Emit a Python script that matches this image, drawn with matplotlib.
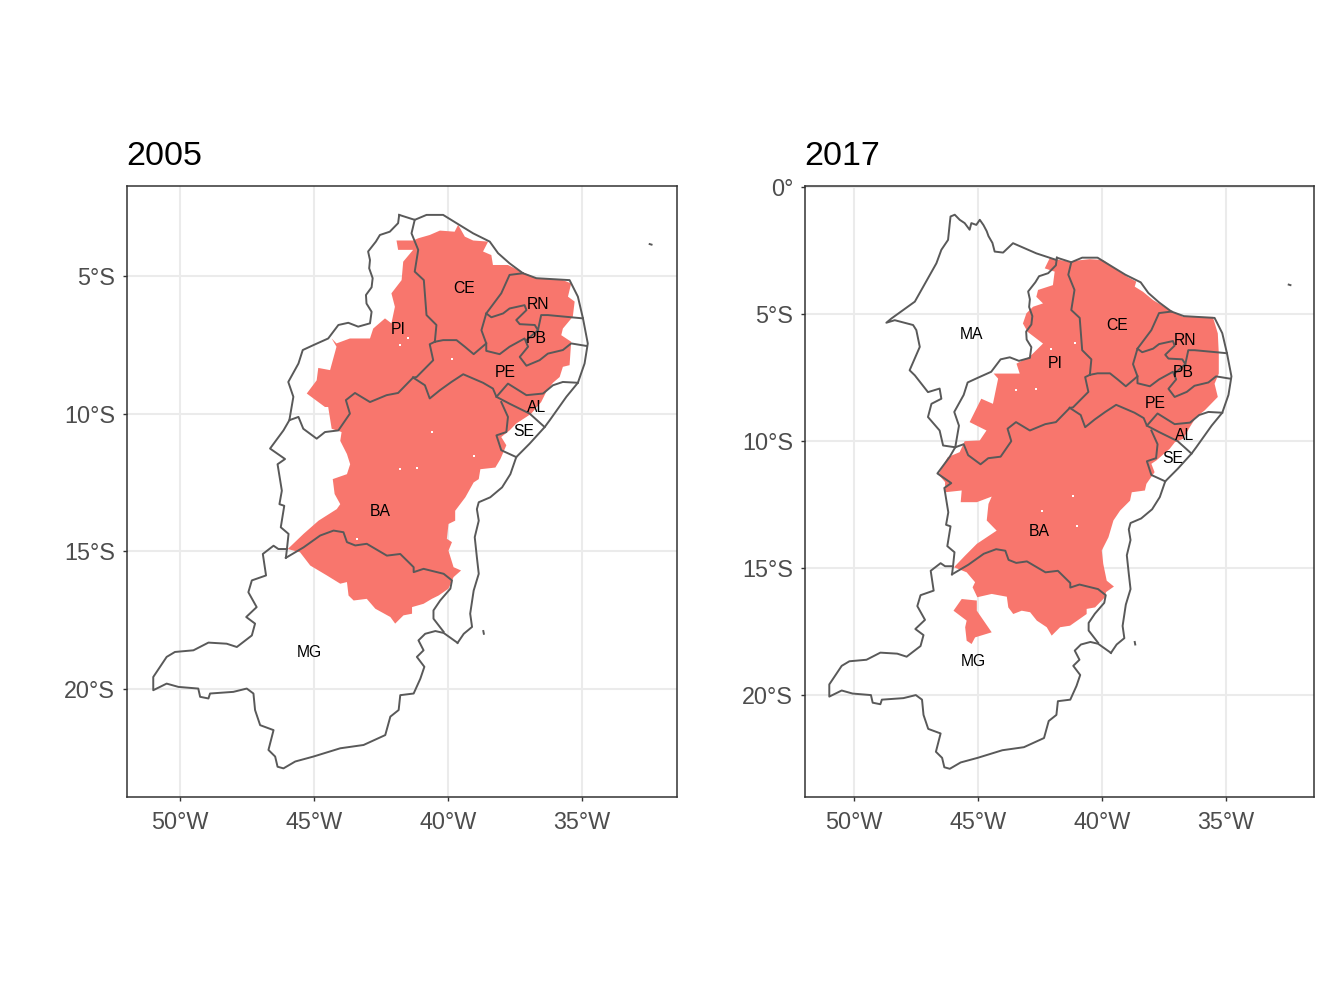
import matplotlib
matplotlib.use("Agg")
import matplotlib.pyplot as plt
import numpy as np

plt.rcParams["font.family"] = ["Liberation Sans", "DejaVu Sans"]

# borders, (lon, lat)
pi_west = [(-41.82,-2.78),(-41.86,-3.08),(-42.17,-3.39),(-42.54,-3.51),(-42.69,-3.75),(-42.98,-4.11),
           (-42.91,-4.42),(-42.94,-4.72),(-42.81,-5.08),(-42.85,-5.41),(-43.06,-5.69),(-43.04,-6.00),
           (-42.85,-6.30),(-42.91,-6.72),(-43.35,-6.84),(-43.72,-6.70),(-44.09,-6.78),(-44.47,-7.27),
           (-45.02,-7.51),(-45.42,-7.69),(-45.58,-8.18),(-45.96,-8.85),(-45.77,-9.39),(-45.92,-10.24),
           (-45.58,-10.12),(-45.40,-10.55),(-44.90,-10.91),(-44.59,-10.67),(-44.09,-10.61),(-43.66,-10.00),
           (-43.81,-9.51),(-43.47,-9.25),(-42.91,-9.58),(-42.29,-9.33),(-41.86,-9.25),(-41.30,-8.69)]
coast = [(-41.82,-2.78),(-41.24,-2.96),(-40.80,-2.78),(-40.18,-2.78),(-39.68,-3.08),(-39.06,-3.45),
         (-38.44,-3.75),(-38.13,-4.17),(-37.70,-4.54),(-37.20,-4.90),(-36.70,-5.08),(-35.46,-5.15),
         (-35.15,-5.75),(-34.96,-6.54),(-34.78,-7.45),(-34.90,-8.18),(-35.15,-8.88),(-35.58,-9.39),
         (-36.20,-10.24),(-36.39,-10.49),(-36.95,-11.09),(-37.45,-11.58),(-37.67,-12.20),(-37.98,-12.68),
         (-38.42,-13.04),(-38.85,-13.22),(-38.92,-13.47),(-38.85,-13.89),(-39.00,-14.49),(-38.92,-15.22),
         (-38.85,-15.82),(-39.04,-16.43),(-39.17,-17.27),(-39.10,-17.75),(-39.41,-18.00),(-39.64,-18.33)]
mg_south = [(-39.64,-18.33),(-40.16,-17.97),(-40.47,-17.90),(-40.85,-18.00),(-41.10,-18.24),(-40.91,-18.60),
            (-41.16,-18.84),(-40.88,-19.20),(-41.03,-19.63),(-41.28,-20.17),(-41.78,-20.23),(-41.84,-20.77),
            (-42.15,-21.01),(-42.34,-21.68),(-43.15,-22.04),(-44.02,-22.16),(-45.02,-22.46),(-45.70,-22.64),
            (-46.14,-22.89),(-46.36,-22.83),(-46.45,-22.46),(-46.70,-22.22),(-46.51,-21.50),(-47.01,-21.32),
            (-47.20,-20.77),(-47.26,-20.17),(-47.51,-19.99),(-48.01,-20.11),(-48.88,-20.17),(-48.94,-20.35),
            (-49.25,-20.29),(-49.32,-19.99),(-50.06,-19.93),(-50.50,-19.81),(-51.00,-20.05),(-51.00,-19.57),
            (-50.50,-18.84),(-50.19,-18.66),(-49.50,-18.60),(-48.94,-18.32),(-48.26,-18.36),(-47.88,-18.48),
            (-47.32,-18.06),(-47.20,-17.63),(-47.53,-17.39),(-47.14,-17.03),(-47.45,-16.49),(-47.32,-16.06),
            (-46.79,-15.88),(-46.91,-15.10),(-46.51,-14.80),(-46.33,-14.92),(-46.01,-14.92),(-46.05,-15.24)]
ba_west = [(-45.92,-10.24),(-46.14,-10.61),(-46.64,-11.27),(-46.08,-11.65),(-46.36,-11.84),(-46.26,-12.44),
           (-46.20,-12.80),(-46.29,-13.29),(-46.11,-13.35),(-46.24,-14.13),(-45.95,-14.37),(-46.01,-14.92)]
mg_ba = [(-46.05,-15.24),(-45.39,-14.86),(-44.77,-14.43),(-44.27,-14.25),(-43.90,-14.31),(-43.77,-14.67),
         (-43.46,-14.79),(-43.03,-14.73),(-42.28,-15.16),(-41.78,-15.10),(-41.28,-15.58),(-41.28,-15.76),
         (-40.91,-15.64),(-40.16,-15.82),(-39.85,-16.06),(-39.91,-16.36),(-40.29,-16.79),(-40.54,-17.15),
         (-40.54,-17.45),(-40.16,-17.93)]
pi_ce = [(-41.24,-2.96),(-41.36,-3.45),(-41.11,-4.05),(-41.24,-4.84),(-40.90,-5.15),(-40.80,-6.42),
         (-40.43,-6.78),(-40.49,-7.39)]
ce_south = [(-40.49,-7.39),(-40.18,-7.33),(-39.68,-7.33),(-39.37,-7.57),(-39.04,-7.84),(-38.57,-7.45),
            (-38.75,-6.97),(-38.57,-6.36),(-38.01,-5.63),(-37.70,-4.96),(-37.20,-4.90)]
pi_pe = [(-40.49,-7.39),(-40.68,-7.48),(-40.55,-8.06),(-41.17,-8.67),(-41.30,-8.69)]
pe_north = [(-38.57,-7.45),(-38.57,-7.72),(-38.07,-7.84),(-37.70,-7.57),(-37.14,-7.27),(-37.01,-7.57),
            (-37.32,-7.94),(-37.07,-8.26),(-36.58,-8.06),(-36.27,-7.82),(-35.71,-7.69),(-35.40,-7.45),(-34.84,-7.54)]
rn_south = [(-38.57,-6.36),(-38.38,-6.50),(-37.94,-6.36),(-37.70,-6.18),(-37.14,-6.06),(-37.07,-6.24),
            (-37.45,-6.60),(-37.32,-6.75),(-36.76,-6.78),(-36.64,-6.97),(-36.52,-6.42),(-36.27,-6.42),(-34.96,-6.54)]
pb_link = [(-36.64,-6.97),(-37.07,-7.33)]
pe_south = [(-41.30,-8.69),(-40.86,-8.97),(-40.68,-9.45),(-40.30,-9.15),(-39.87,-8.85),(-39.43,-8.57),
            (-38.69,-8.88),(-38.32,-9.09),(-38.19,-9.39),(-37.76,-8.91),(-37.07,-9.33),(-36.45,-9.27),
            (-36.08,-8.97),(-35.71,-8.85),(-35.15,-8.88)]
al_se = [(-38.19,-9.39),(-37.70,-9.64),(-36.95,-10.00),(-36.39,-10.49)]
ba_se = [(-38.01,-9.58),(-37.76,-10.12),(-37.82,-10.67),(-38.19,-10.79),(-38.01,-11.33),(-37.45,-11.58)]
ma_border = [(-41.84,-2.87),(-42.65,-2.61),(-43.59,-2.21),(-43.99,-2.58),(-44.33,-2.54),(-44.42,-2.20),
             (-44.58,-1.93),(-44.65,-1.74),(-44.78,-1.50),(-44.93,-1.29),(-45.07,-1.49),(-45.27,-1.42),
             (-45.34,-1.68),(-45.54,-1.42),(-45.74,-1.29),(-45.94,-1.09),(-46.11,-1.16),(-46.14,-1.42),
             (-46.21,-2.08),(-46.48,-2.47),(-46.68,-3.00),(-47.02,-3.59),(-47.55,-4.51),(-48.49,-5.17),
             (-48.70,-5.34),(-48.36,-5.24),(-47.62,-5.43),(-47.49,-5.63),(-47.35,-6.29),(-47.76,-7.21),
             (-47.55,-7.41),(-47.02,-8.07),(-46.55,-7.93),(-46.48,-8.33),(-46.88,-8.53),(-47.02,-9.05),
             (-46.55,-9.58),(-46.41,-10.17),(-45.92,-10.24)]
noronha = [(-32.47,-3.84),(-32.40,-3.86)]
abrolhos = [(-38.68,-17.90),(-38.66,-18.00)]

# semi-arid area
area_2005 = [(-41.92,-3.71),(-41.30,-3.71),(-41.11,-3.63),(-40.68,-3.51),(-40.30,-3.35),(-39.75,-3.39),
             (-39.62,-3.14),(-39.37,-3.57),(-39.06,-3.71),(-38.50,-3.75),(-38.69,-4.11),(-38.38,-4.24),
             (-38.32,-4.60),(-37.76,-4.60),(-37.26,-4.84),(-36.70,-5.08),(-35.71,-5.15),(-35.40,-5.27),
             (-35.52,-5.75),(-35.27,-5.93),(-35.34,-6.48),(-35.71,-6.91),(-35.77,-7.15),(-35.40,-7.39),
             (-35.46,-8.24),(-35.71,-8.30),(-35.83,-8.67),(-36.08,-8.88),(-36.33,-9.21),(-36.52,-9.58),
             (-36.89,-10.00),(-37.07,-10.12),(-37.45,-10.36),(-37.70,-10.61),(-38.01,-10.85),(-37.82,-11.15),
             (-38.04,-11.65),(-38.23,-11.96),(-38.79,-12.02),(-38.85,-12.38),(-39.04,-12.50),(-39.35,-13.04),
             (-39.73,-13.53),(-39.73,-13.89),(-39.98,-14.01),(-40.04,-14.55),(-39.85,-14.67),(-39.98,-14.98),
             (-39.79,-15.58),(-39.51,-15.70),(-39.79,-15.94),(-39.98,-16.36),(-40.35,-16.61),(-40.60,-16.73),
             (-40.91,-16.91),(-41.34,-17.03),(-41.34,-17.27),(-41.66,-17.33),(-41.97,-17.63),(-42.15,-17.39),
             (-42.71,-17.09),(-43.03,-16.73),(-43.52,-16.79),(-43.71,-16.61),(-43.77,-16.12),(-44.02,-16.18),
             (-44.52,-15.88),(-45.14,-15.52),(-45.52,-15.04),(-45.98,-14.92),(-45.39,-14.37),(-44.83,-13.89),
             (-44.15,-13.47),(-44.02,-13.29),(-44.23,-12.92),(-44.30,-12.38),(-43.77,-12.20),(-43.65,-11.84),
             (-43.77,-11.47),(-44.02,-10.99),(-43.97,-10.67),(-44.34,-10.55),(-44.47,-9.76),(-44.59,-9.76),
             (-45.27,-9.27),(-44.90,-8.79),(-44.84,-8.34),(-44.40,-8.42),(-44.16,-7.57),(-44.34,-7.27),
             (-44.16,-7.45),(-43.66,-7.27),(-42.91,-7.27),(-42.79,-6.91),(-42.35,-6.54),(-42.11,-6.72),
             (-41.98,-6.12),(-42.11,-5.63),(-41.73,-5.15),(-41.67,-4.48),(-41.30,-4.05),(-41.86,-4.05)]
area_2017 = [(-42.11,-2.80),(-41.37,-2.93),(-40.50,-2.84),(-39.96,-2.87),(-39.29,-3.33),(-38.95,-3.55),
             (-38.62,-3.72),(-38.68,-3.92),(-38.35,-4.12),(-37.94,-4.45),(-37.27,-4.84),(-36.73,-5.11),
             (-35.53,-5.11),(-35.33,-5.76),(-35.29,-6.55),(-35.29,-7.34),(-35.46,-7.74),(-35.33,-8.26),
             (-35.86,-8.79),(-36.20,-9.05),(-36.46,-9.45),(-36.73,-9.91),(-37.06,-10.04),(-37.27,-10.30),
             (-37.81,-10.76),(-38.01,-10.89),(-37.88,-11.22),(-38.21,-11.68),(-38.27,-11.94),(-38.80,-12.01),
             (-38.87,-12.34),(-39.27,-12.73),(-39.54,-13.12),(-39.74,-13.78),(-40.01,-14.30),(-39.95,-14.83),
             (-39.81,-15.49),(-39.52,-15.72),(-39.84,-15.94),(-39.88,-16.14),(-40.28,-16.54),(-40.62,-16.60),
             (-40.62,-16.80),(-41.29,-17.26),(-41.69,-17.32),(-42.03,-17.65),(-42.23,-17.32),(-42.63,-17.06),
             (-42.90,-16.73),(-43.24,-16.67),(-43.58,-16.80),(-43.78,-16.54),(-43.84,-16.12),(-44.45,-16.01),
             (-45.03,-16.14),(-45.22,-15.75),(-45.12,-15.55),(-45.46,-15.16),(-45.97,-14.96),(-45.52,-14.50),
             (-45.05,-14.04),(-44.25,-13.52),(-44.65,-13.12),(-44.58,-12.47),(-44.45,-12.18),(-45.05,-12.40),
             (-45.70,-12.40),(-45.66,-11.94),(-46.33,-12.01),(-46.33,-11.61),(-46.60,-11.31),(-46.22,-10.63),
             (-45.74,-10.43),(-45.54,-10.00),(-44.93,-9.97),(-44.66,-9.58),(-45.34,-9.25),(-44.87,-8.33),
             (-44.40,-8.53),(-44.19,-7.54),(-44.37,-7.34),(-43.32,-7.34),(-43.45,-6.95),(-42.92,-6.68),
             (-42.38,-6.16),(-43.00,-5.70),(-43.19,-5.37),(-43.05,-4.97),(-42.78,-4.71),(-42.38,-4.58),
             (-42.65,-4.32),(-42.58,-4.05),(-41.98,-3.86),(-41.91,-3.33),(-42.31,-3.20)]
mg_patch_2017 = [(-45.99,-16.67),(-45.66,-16.21),(-45.05,-16.27),(-45.05,-16.67),(-44.45,-17.52),(-45.12,-17.72),
                 (-45.26,-17.98),(-45.46,-17.85),(-45.52,-17.32),(-45.46,-17.06)]

# small holes in the area
specks_2005 = [(-41.48,-7.25),(-41.80,-7.51),(-39.84,-8.03),(-40.58,-10.67),(-39.04,-11.53),
               (-41.78,-12.02),(-41.16,-11.96),(-43.40,-14.55)]
specks_2017 = [(-42.65,-7.93),(-42.04,-6.36),(-41.10,-6.13),(-43.45,-8.00),(-41.16,-12.14),
               (-41.02,-13.32),(-42.43,-12.73)]

labels_2005 = ["CE", "RN", "PI", "PB", "PE", "AL", "SE", "BA", "MG"]
label_lon_2005 = [-39.40, -36.64, -41.87, -36.72, -37.87, -36.68, -37.16, -42.54, -45.19]
label_lat_2005 = [-5.44, -6.02, -6.93, -7.26, -8.49, -9.77, -10.64, -13.55, -18.68]
labels_2017 = ["MA", "CE", "RN", "PI", "PB", "PE", "AL", "SE", "BA", "MG"]
label_lon_2017 = [-45.28, -39.40, -36.66, -41.90, -36.74, -37.87, -36.66, -37.14, -42.54, -45.20]
label_lat_2017 = [-5.79, -5.43, -6.02, -6.93, -7.28, -8.50, -9.76, -10.67, -13.54, -18.66]

lon_ticks = [-50, -45, -40, -35]
lon_ticklabels = ["50°W", "45°W", "40°W", "35°W"]
lat_ticks_2005 = [-5, -10, -15, -20]
lat_ticklabels_2005 = ["5°S", "10°S", "15°S", "20°S"]
lat_ticks_2017 = [0, -5, -10, -15, -20]
lat_ticklabels_2017 = ["0°", "5°S", "10°S", "15°S", "20°S"]

FILL = "#F8766D"
LINE = "#595959"
W, H = 1344, 1008


def panel(box, ylim, title, areas, specks, lines, names, lons, lats, yticks, yticklabels):
    x0, y0, x1, y1 = box
    ax = plt.gcf().add_axes([x0 / W, 1 - y1 / H, (x1 - x0) / W, (y1 - y0) / H])
    for a in areas:
        xy = np.array(a)
        ax.fill(xy[:, 0], xy[:, 1], color=FILL, lw=0, zorder=2)
    sp = np.array(specks)
    ax.scatter(sp[:, 0], sp[:, 1], s=3, color="white", marker="s", lw=0, zorder=2.5)
    for l in lines:
        xy = np.array(l)
        ax.plot(xy[:, 0], xy[:, 1], color=LINE, lw=1.4, zorder=3, solid_joinstyle="round")
    for n, lo, la in zip(names, lons, lats):
        ax.text(lo, la, n, fontsize=11.3, color="black", ha="center", va="center", zorder=4)
    ax.set_xlim(-51.98, -31.45)
    ax.set_ylim(*ylim)
    ax.set_xticks(lon_ticks)
    ax.set_xticklabels(lon_ticklabels)
    ax.set_yticks(yticks)
    ax.set_yticklabels(yticklabels)
    ax.tick_params(colors="#333333", labelcolor="#4D4D4D", labelsize=16.8, length=3.2, width=1.0)
    ax.tick_params(axis="x", pad=6.8)
    ax.tick_params(axis="y", pad=5.4)
    ax.grid(True, color="#EBEBEB", lw=1.5, zorder=1)
    ax.set_axisbelow(True)
    for s in ax.spines.values():
        s.set_color("#333333")
        s.set_linewidth(1.1)
        s.set_zorder(5)
    ax.set_title(title, loc="left", fontsize=24.5, pad=15, color="black", x=-0.002)
    return ax


fig = plt.figure(figsize=(W / 100, H / 100), dpi=100)

lines_2005 = [pi_west, coast, mg_south, ba_west, mg_ba, pi_ce, ce_south, pi_pe, pe_north, rn_south,
              pb_link, pe_south, al_se, ba_se, noronha, abrolhos]

panel((127, 186, 677, 797), (-23.93, -1.73), "2005", [area_2005], specks_2005, lines_2005,
      labels_2005, label_lon_2005, label_lat_2005, lat_ticks_2005, lat_ticklabels_2005)
panel((805, 186, 1314, 797), (-24.0, 0.04), "2017", [area_2017, mg_patch_2017], specks_2017,
      lines_2005 + [ma_border], labels_2017, label_lon_2017, label_lat_2017, lat_ticks_2017,
      lat_ticklabels_2017)

fig.savefig("out.png", dpi=100)
